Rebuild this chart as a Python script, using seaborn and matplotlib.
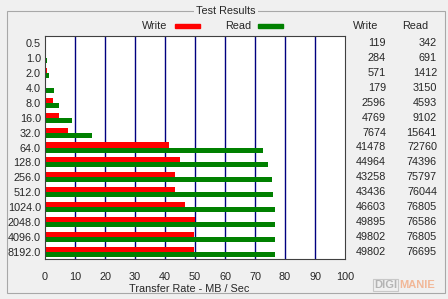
import matplotlib
matplotlib.use("Agg")
import matplotlib.pyplot as plt
import matplotlib.transforms as mtrans
from matplotlib.patches import Rectangle
import seaborn as sns
import pandas as pd

sizes = ["0.5", "1.0", "2.0", "4.0", "8.0", "16.0", "32.0", "64.0", "128.0",
         "256.0", "512.0", "1024.0", "2048.0", "4096.0", "8192.0"]
write_kb = [119, 284, 571, 179, 2596, 4769, 7674, 41478, 44964,
            43258, 43436, 46603, 49895, 49802, 49802]
read_kb = [342, 691, 1412, 3150, 4593, 9102, 15641, 72760, 74396,
           75797, 76044, 76805, 76586, 76805, 76695]
xticks = [0, 10, 20, 30, 40, 50, 60, 70, 80, 90, 100]

df = pd.DataFrame({
    "size": sizes * 2,
    "kind": ["Write"] * len(sizes) + ["Read"] * len(sizes),
    "rate": [v / 1000 for v in write_kb] + [v / 1000 for v in read_kb],
})

sns.set_style("white")
plt.rcParams["font.family"] = ["Liberation Sans", "DejaVu Sans"]
FS = 7.8
BG = "#f0f0f0"

W, H = 448, 299
fig = plt.figure(figsize=(W / 100, H / 100), dpi=100, facecolor=BG)
ax = fig.add_axes([45 / W, 1 - 259 / H, 300 / W, 223 / H])
ax.set_facecolor("white")

sns.barplot(data=df, y="size", x="rate", hue="kind", order=sizes,
            hue_order=["Write", "Read"], palette={"Write": "#ff0000", "Read": "#008000"},
            orient="h", width=0.68, gap=0, errorbar=None, ax=ax, legend=False,
            linewidth=0, saturation=1)

ax.set_xlim(0, 100)
ax.set_ylim(len(sizes) - 0.5, -0.5)
ax.set_xticks(xticks)
ax.set_xticklabels([str(t) for t in xticks], fontsize=FS)
ax.set_yticks(range(len(sizes)))
ax.set_yticklabels(sizes, fontsize=FS)
ax.tick_params(axis="both", length=0)
ax.tick_params(axis="y", pad=3)
ax.tick_params(axis="x", pad=9)
ax.set_xlabel("Transfer Rate - MB / Sec", fontsize=FS, labelpad=0)
ax.xaxis.set_label_coords(0.48, -0.11)
ax.set_ylabel("")
for t in xticks[1:-1]:
    ax.axvline(t, color="#000080", linewidth=1, zorder=0)
for s in ax.spines.values():
    s.set_visible(True)
    s.set_color("#404040")
    s.set_linewidth(0.8)

# group box frame
fig.patches.append(Rectangle((7 / W, 1 - 293 / H), 438 / W, 282 / H,
                             transform=fig.transFigure, fill=False,
                             edgecolor="#a8a8a8", linewidth=0.8))
fig.text(226 / W, 1 - 11 / H, "Test Results", ha="center", va="center", fontsize=FS,
         bbox=dict(facecolor=BG, edgecolor="none", pad=1.5))

# legend
fig.text(167 / W, 1 - 26 / H, "Write", ha="right", va="center", fontsize=FS)
fig.patches.append(Rectangle((175 / W, 1 - 28 / H), 25 / W, 4 / H,
                             transform=fig.transFigure, color="#ff0000"))
fig.text(251 / W, 1 - 26 / H, "Read", ha="right", va="center", fontsize=FS)
fig.patches.append(Rectangle((258 / W, 1 - 28 / H), 25 / W, 4 / H,
                             transform=fig.transFigure, color="#008000"))

# value columns
tr = mtrans.blended_transform_factory(fig.transFigure, ax.transData)
fig.text(366 / W, 1 - 26 / H, "Write", ha="center", va="center", fontsize=FS)
fig.text(415 / W, 1 - 26 / H, "Read", ha="center", va="center", fontsize=FS)
for i, (w, r) in enumerate(zip(write_kb, read_kb)):
    ax.text(386 / W, i, str(w), transform=tr, ha="right", va="center", fontsize=FS, clip_on=False)
    ax.text(437 / W, i, str(r), transform=tr, ha="right", va="center", fontsize=FS, clip_on=False)

fig.text(397 / W, 1 - 285 / H, "DIGI", ha="right", va="center", fontsize=8,
         color="#b4b4b4", fontweight="bold",
         bbox=dict(facecolor="none", edgecolor="#c8c8c8", pad=0.6, linewidth=0.8))
fig.text(399 / W, 1 - 285 / H, "MANIE", ha="left", va="center", fontsize=8,
         color="#f2b898", fontweight="bold")

fig.savefig("out.png", dpi=100, facecolor=BG)
